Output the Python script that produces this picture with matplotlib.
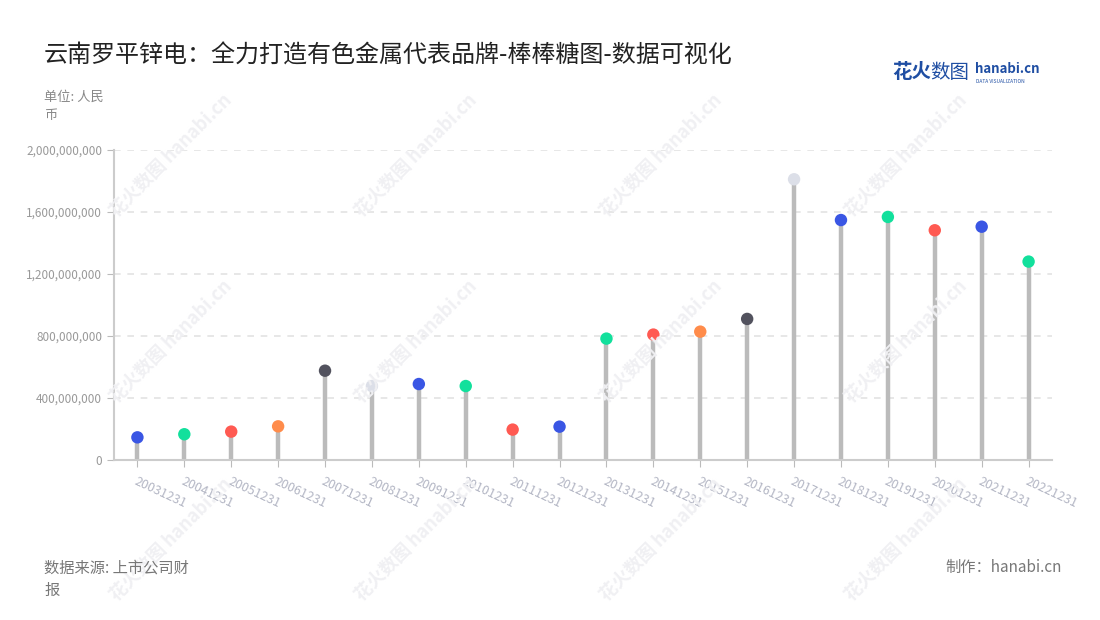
import matplotlib
matplotlib.use("Agg")
import matplotlib.pyplot as plt
from matplotlib.ticker import FuncFormatter, MultipleLocator

plt.rcParams['font.family'] = ['Noto Sans CJK SC', 'DejaVu Sans']

# data (unit: RMB)
dates = ["20031231", "20041231", "20051231", "20061231", "20071231",
         "20081231", "20091231", "20101231", "20111231", "20121231",
         "20131231", "20141231", "20151231", "20161231", "20171231",
         "20181231", "20191231", "20201231", "20211231", "20221231"]
values = [146e6, 166e6, 183e6, 217e6, 576e6,
          477e6, 490e6, 477e6, 196e6, 215e6,
          783e6, 809e6, 828e6, 910e6, 1811e6,
          1548e6, 1568e6, 1482e6, 1505e6, 1280e6]
dot_colors = ["#3a56e4", "#12e09c", "#ff5a52", "#ff8c4b", "#52525e",
              "#dcdfe8", "#3a56e4", "#12e09c", "#ff5a52", "#3a56e4",
              "#12e09c", "#ff5a52", "#ff8c4b", "#52525e", "#dcdfe8",
              "#3a56e4", "#12e09c", "#ff5a52", "#3a56e4", "#12e09c"]

fig = plt.figure(figsize=(11, 6.2), dpi=100)
ax = fig.add_axes([0.1036, 0.2581, 0.8528, 0.5])

x = list(range(len(dates)))

# faint watermarks
for wx in [0.155, 0.378, 0.601, 0.824]:
    for wy in [0.75, 0.45, 0.13]:
        fig.text(wx, wy, "花火数图 hanabi.cn", rotation=45, fontsize=13,
                 color="#f0f0f3", ha="center", va="center", zorder=0,
                 fontweight="bold")

# stems
ax.vlines(x, 0, values, color="#bbbbbb", linewidth=3.2, zorder=2)
ax.scatter(x, values, s=80, c=dot_colors, zorder=3, linewidths=0)

ax.set_xlim(-0.5, len(dates) - 0.5)
ax.set_ylim(0, 2.0e9)
ax.yaxis.set_major_locator(MultipleLocator(4e8))
ax.yaxis.set_major_formatter(FuncFormatter(lambda v, p: f"{int(v):,}"))
ax.set_xticks(x)
ax.set_xticklabels(dates, rotation=-25, ha="left", rotation_mode="anchor",
                   fontsize=9, color="#b3b6c4")
ax.tick_params(axis="x", length=5, color="#bbbbbb", pad=6)
ax.tick_params(axis="y", length=5, color="#bbbbbb", labelsize=8.5,
               labelcolor="#999999")

ax.grid(axis="y", linestyle=(0, (4, 4)), color="#e3e3e3", linewidth=1.2)
ax.set_axisbelow(True)
for s in ["top", "right"]:
    ax.spines[s].set_visible(False)
for s in ["left", "bottom"]:
    ax.spines[s].set_color("#cccccc")
    ax.spines[s].set_linewidth(1.5)
ax.patch.set_alpha(0)

# titles and notes
fig.text(0.04, 0.91, "云南罗平锌电：全力打造有色金属代表品牌-棒棒糖图-数据可视化",
         fontsize=17.3, color="#222222", va="center")
fig.text(0.04, 0.853, "单位: 人民\n币", fontsize=9.5, color="#888888",
         va="top", linespacing=1.45)
fig.text(0.04, 0.098, "数据来源: 上市公司财\n报", fontsize=11, color="#777777",
         va="top", linespacing=1.45)
fig.text(0.965, 0.085, "制作：hanabi.cn", fontsize=11, color="#777777",
         ha="right", va="center")

# logo
fig.text(0.811, 0.883, "花火", fontsize=14, color="#1f4ea3", fontweight="bold",
         va="center")
fig.text(0.846, 0.883, "数图", fontsize=14, color="#1f4ea3", va="center")
fig.text(0.886, 0.888, "hanabi.cn", fontsize=9.5, color="#1f4ea3",
         fontweight="bold", va="center")
fig.text(0.887, 0.869, "DATA VISUALIZATION", fontsize=3.5, color="#1f4ea3",
         va="center")

fig.savefig("out.png", dpi=100)
